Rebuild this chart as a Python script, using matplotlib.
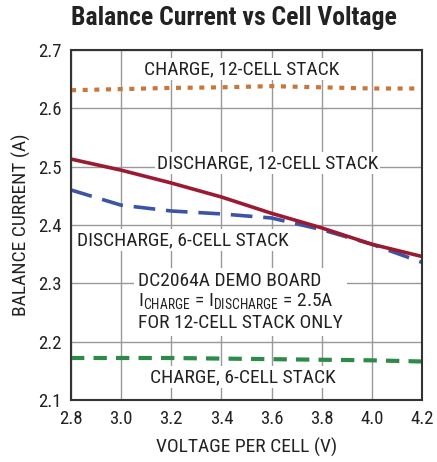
"""
Balance current vs cell voltage (DC2064A demo board)
"""
import numpy as np
import matplotlib
matplotlib.use('Agg')
import matplotlib.pyplot as plt
from matplotlib import font_manager as fm

# pick a condensed sans if one is around, else fall back to DejaVu
_have = {f.name for f in fm.fontManager.ttflist}
FONT = [f for f in ['Roboto Condensed', 'Archivo Narrow', 'Liberation Sans Narrow']
        if f in _have] + ['DejaVu Sans']
plt.rcParams['font.family'] = FONT
plt.rcParams['mathtext.fontset'] = 'custom'
plt.rcParams['mathtext.rm'] = FONT[0]

# ── Data ─────────────────────────────────────────────────────────────────────
volts = [2.8, 3.0, 3.2, 3.4, 3.6, 3.8, 4.0, 4.2]
charge_12 = [2.631, 2.633, 2.635, 2.636, 2.638, 2.636, 2.634, 2.634]
discharge_12 = [2.513, 2.494, 2.472, 2.448, 2.420, 2.395, 2.367, 2.346]
discharge_6 = [2.460, 2.434, 2.424, 2.419, 2.412, 2.392, 2.367, 2.336]
charge_6 = [2.172, 2.172, 2.172, 2.171, 2.170, 2.169, 2.168, 2.166]

xticks = [2.8, 3.0, 3.2, 3.4, 3.6, 3.8, 4.0, 4.2]
yticks = [2.1, 2.2, 2.3, 2.4, 2.5, 2.6, 2.7]

# ── Figure ──────────────────────────────────────────────────────────────────
fig = plt.figure(figsize=(4.37, 4.62), dpi=100)
ax = fig.add_axes([0.1625, 0.1342, 0.8032, 0.7576])

ax.plot(volts, charge_12, color='#c8763a', lw=3, dashes=(1.2, 1.6), zorder=3)
ax.plot(volts, discharge_6, color='#3d54a6', lw=2.6, dashes=(6, 3), zorder=3)
ax.plot(volts, discharge_12, color='#9b1a32', lw=2.6, zorder=4)
ax.plot(volts, charge_6, color='#2e8a48', lw=3, dashes=(3.2, 2.2), zorder=3)

ax.set_xlim(2.8, 4.2)
ax.set_ylim(2.1, 2.7)
ax.set_xticks(xticks)
ax.set_yticks(yticks)
ax.set_xticklabels([f'{v:.1f}' for v in xticks], fontsize=13.5, color='#222222')
ax.set_yticklabels([f'{v:.1f}' for v in yticks], fontsize=13.5, color='#222222')
ax.tick_params(length=0, pad=7)
ax.grid(True, color='#999999', lw=1)
for s in ax.spines.values():
    s.set_color('#333333')
    s.set_linewidth(1.5)
    s.set_zorder(6)

ax.set_xlabel('VOLTAGE PER CELL (V)', fontsize=14, color='#222222', labelpad=7)
ax.set_ylabel('BALANCE CURRENT (A)', fontsize=14, color='#222222', labelpad=5)
fig.text(0.535, 0.962, 'Balance Current vs Cell Voltage', ha='center', va='center',
         fontsize=18.5, fontweight='bold', color='#222222')

box = dict(facecolor='white', edgecolor='none', pad=1.5)
ax.text(3.482, 2.667, 'CHARGE, 12-CELL STACK', ha='center', va='center',
        fontsize=14, color='#222222', bbox=box, zorder=5)
ax.text(3.584, 2.506, 'DISCHARGE, 12-CELL STACK', ha='center', va='center',
        fontsize=14, color='#222222', bbox=box, zorder=5)
ax.text(2.822, 2.374, 'DISCHARGE, 6-CELL STACK', ha='left', va='center',
        fontsize=14, color='#222222', bbox=box, zorder=5)
ax.text(3.066, 2.32,
        'DC2064A DEMO BOARD\n'
        r'I$_{\mathrm{CHARGE}}$ = I$_{\mathrm{DISCHARGE}}$ = 2.5A' '\n'
        'FOR 12-CELL STACK ONLY',
        ha='left', va='top', fontsize=14, color='#222222', linespacing=1.15,
        bbox=dict(facecolor='white', edgecolor='none', pad=3), zorder=5)
ax.text(3.484, 2.139, 'CHARGE, 6-CELL STACK', ha='center', va='center',
        fontsize=14, color='#222222', bbox=box, zorder=5)

plt.savefig('out.png', dpi=100)
plt.close()
